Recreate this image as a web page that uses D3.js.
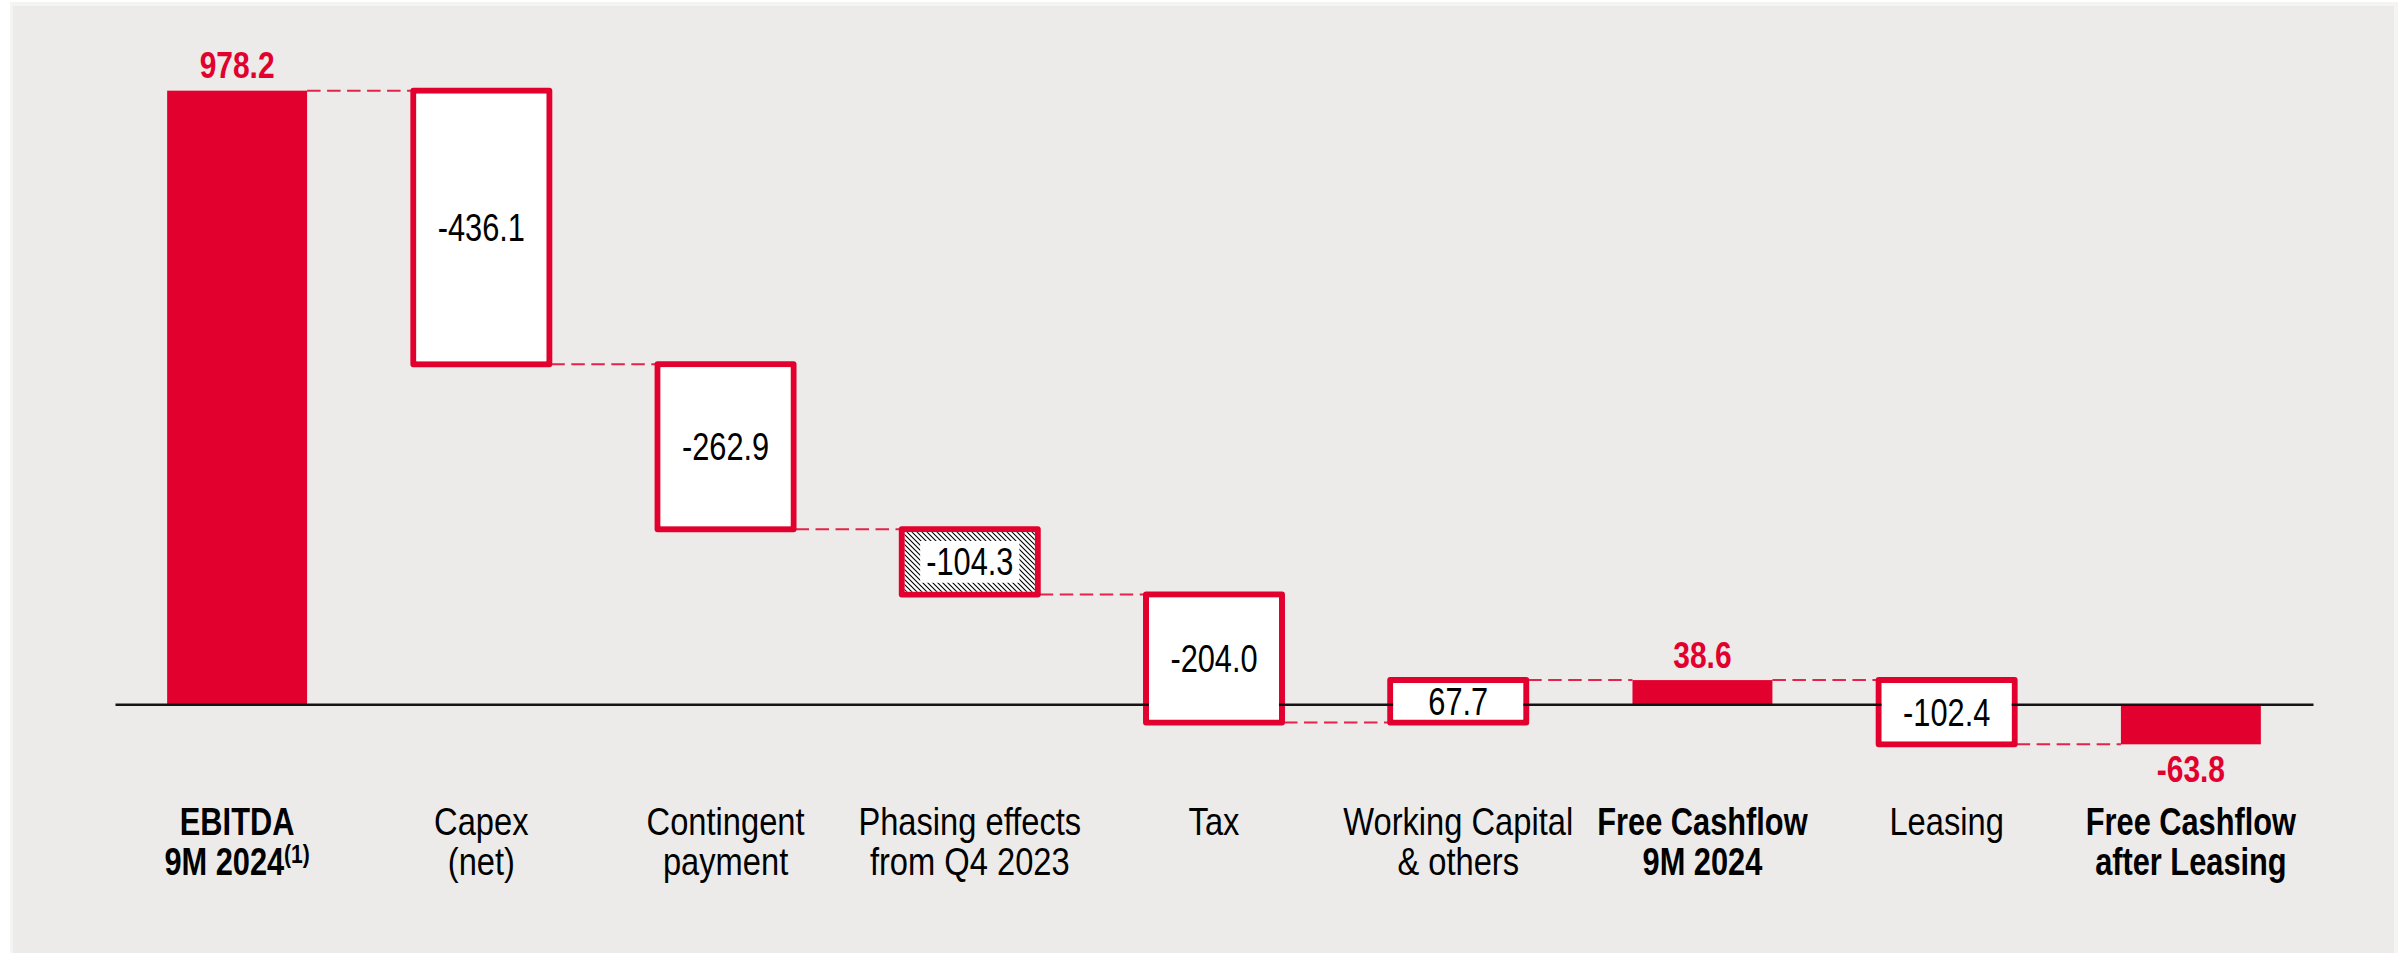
<!DOCTYPE html>
<html>
<head>
<meta charset="utf-8">
<script src="https://cdn.jsdelivr.net/npm/d3@7"></script>
<style>
  html, body { margin: 0; padding: 0; background: #ffffff; }
  svg { display: block; }
</style>
</head>
<body>
<svg id="chart" width="2407" height="953"></svg>
<script>
// Cash flow bridge, 9M 2024 (EUR m)
const categories = [
  "EBITDA 9M 2024", "Capex (net)", "Contingent payment",
  "Phasing effects from Q4 2023", "Tax", "Working Capital & others",
  "Free Cashflow 9M 2024", "Leasing", "Free Cashflow after Leasing"
];
const labelLines = [
  ["EBITDA", "9M 2024"], ["Capex", "(net)"], ["Contingent", "payment"],
  ["Phasing effects", "from Q4 2023"], ["Tax"], ["Working Capital", "& others"],
  ["Free Cashflow", "9M 2024"], ["Leasing"], ["Free Cashflow", "after Leasing"]
];
const footnoteMarks = ["(1)", "", "", "", "", "", "", "", ""];
const values = [978.2, -436.1, -262.9, -104.3, -204.0, 67.7, 38.6, -102.4, -63.8];
const valueLabels = ["978.2", "-436.1", "-262.9", "-104.3", "-204.0", "67.7", "38.6", "-102.4", "-63.8"];
// total = solid bar from zero, step = floating box, hatched = floating box with hatch fill
const kinds = ["total", "step", "step", "hatched", "step", "step", "total", "step", "total"];
const boldLabels = [true, false, false, false, false, false, true, false, true];

const RED = "#e2002e";
const PANEL = "#ecebe9";
const FONT = "'Liberation Sans', Arial, Helvetica, sans-serif";
const SQUEEZE = 0.81;       // narrow face
const SQUEEZE_REG = 0.86;   // regular category labels run a little wider

// running totals for the bridge
let running = 0;
const bars = values.map((v, i) => {
  let start, end;
  if (kinds[i] === "total") { start = 0; end = v; }
  else { start = running; end = running + v; }
  running = end;
  return { cat: categories[i], i, v, start, end, kind: kinds[i] };
});

const svg = d3.select("#chart");

// panel
svg.append("rect").attr("x", 10).attr("y", 2).attr("width", 2388).attr("height", 951).attr("fill", "#f4f4f3");
svg.append("rect").attr("x", 13).attr("y", 6).attr("width", 2381).attr("height", 947).attr("fill", PANEL);

const x = d3.scaleBand().domain(categories).range([115, 2313]).paddingInner(0.427).paddingOuter(0.2135);
const y = d3.scaleLinear().domain([0, 1000]).range([704.3, 77.0]);
const bw = x.bandwidth();

// hatch pattern
const defs = svg.append("defs");
const pat = defs.append("pattern").attr("id", "hatch").attr("patternUnits", "userSpaceOnUse")
  .attr("width", 5).attr("height", 5);
pat.append("rect").attr("width", 5).attr("height", 5).attr("fill", "#ffffff");
pat.append("path").attr("d", "M0,0 L5,5 M-1,4 L1,6 M4,-1 L6,1")
  .attr("stroke", "#000").attr("stroke-width", 1.1);

// dashed connectors between consecutive bars
const links = bars.slice(0, -1).map((b, k) => ({ from: b, to: bars[k + 1], level: b.end }));
svg.append("g").selectAll("line").data(links).join("line")
  .attr("x1", d => x(d.from.cat) + bw)
  .attr("x2", d => x(d.to.cat))
  .attr("y1", d => y(d.level)).attr("y2", d => y(d.level))
  .attr("stroke", RED).attr("stroke-opacity", 0.85).attr("stroke-width", 2)
  .attr("stroke-dasharray", "13.5,6.5");

// solid total bars
svg.append("g").selectAll("rect").data(bars.filter(b => b.kind === "total")).join("rect")
  .attr("x", d => x(d.cat)).attr("width", bw)
  .attr("y", d => y(Math.max(d.start, d.end)))
  .attr("height", d => Math.abs(y(d.start) - y(d.end)))
  .attr("fill", RED);

// floating boxes: outline first
const SW = 6;
const steps = bars.filter(b => b.kind !== "total");
svg.append("g").selectAll("rect").data(steps).join("rect")
  .attr("x", d => x(d.cat) + 2).attr("width", bw - 4)
  .attr("y", d => y(Math.max(d.start, d.end)))
  .attr("height", d => Math.abs(y(d.start) - y(d.end)))
  .attr("fill", "none").attr("stroke", RED).attr("stroke-width", SW)
  .attr("stroke-linejoin", "round");

// zero line
const axis = svg.append("g").attr("transform", `translate(0,${y(0)})`)
  .call(d3.axisBottom(x).tickSize(0).tickSizeOuter(0).tickFormat(""));
axis.select(".domain").attr("stroke", "#141414").attr("stroke-width", 2.5);
axis.selectAll(".tick").remove();

// box interiors
svg.append("g").selectAll("rect").data(steps).join("rect")
  .attr("x", d => x(d.cat) + 2 + SW / 2).attr("width", bw - 4 - SW)
  .attr("y", d => y(Math.max(d.start, d.end)) + SW / 2)
  .attr("height", d => Math.abs(y(d.start) - y(d.end)) - SW)
  .attr("fill", d => d.kind === "hatched" ? "url(#hatch)" : "#ffffff");

// values inside boxes
const FS = 38;
const labelsG = svg.append("g");
steps.forEach(d => {
  const cx = x(d.cat) + bw / 2;
  const mid = (y(d.start) + y(d.end)) / 2;
  const t = labelsG.append("text")
    .attr("transform", `translate(${cx},${mid + FS * 0.358}) scale(${SQUEEZE},1)`)
    .attr("text-anchor", "middle")
    .attr("font-family", FONT).attr("font-size", FS).attr("fill", "#000")
    .text(valueLabels[d.i]);
  if (d.kind === "hatched") {
    const w = t.node().getBBox().width * SQUEEZE + 12;
    const h = FS * 1.1;
    labelsG.insert("rect", () => t.node())
      .attr("x", cx - w / 2).attr("y", mid - h / 2)
      .attr("width", w).attr("height", h).attr("fill", "#ffffff");
  }
});

// totals: bold red value above / below bar
svg.append("g").selectAll("text").data(bars.filter(b => b.kind === "total")).join("text")
  .attr("transform", d => {
    const cx = x(d.cat) + bw / 2;
    const ty = d.end >= 0 ? y(d.end) - 12.5 : y(d.end) + 38;
    return `translate(${cx},${ty}) scale(${SQUEEZE},1)`;
  })
  .attr("text-anchor", "middle")
  .attr("font-family", FONT).attr("font-size", 37).attr("font-weight", "bold")
  .attr("fill", RED)
  .text(d => valueLabels[d.i]);

// category labels
const catG = svg.append("g");
categories.forEach((c, i) => {
  const cx = x(c) + bw / 2;
  const sq = boldLabels[i] ? SQUEEZE : SQUEEZE_REG;
  const t = catG.append("text")
    .attr("transform", `translate(${cx},835) scale(${sq},1)`)
    .attr("text-anchor", "middle")
    .attr("font-family", FONT).attr("font-size", FS)
    .attr("font-weight", boldLabels[i] ? "bold" : "normal")
    .attr("fill", "#000");
  labelLines[i].forEach((line, k) => {
    t.append("tspan").attr("x", 0).attr("dy", k === 0 ? 0 : 40).text(line);
    if (k === labelLines[i].length - 1 && footnoteMarks[i]) {
      t.append("tspan").attr("dy", -12).attr("font-size", 26).text(footnoteMarks[i]);
    }
  });
});
</script>
</body>
</html>
